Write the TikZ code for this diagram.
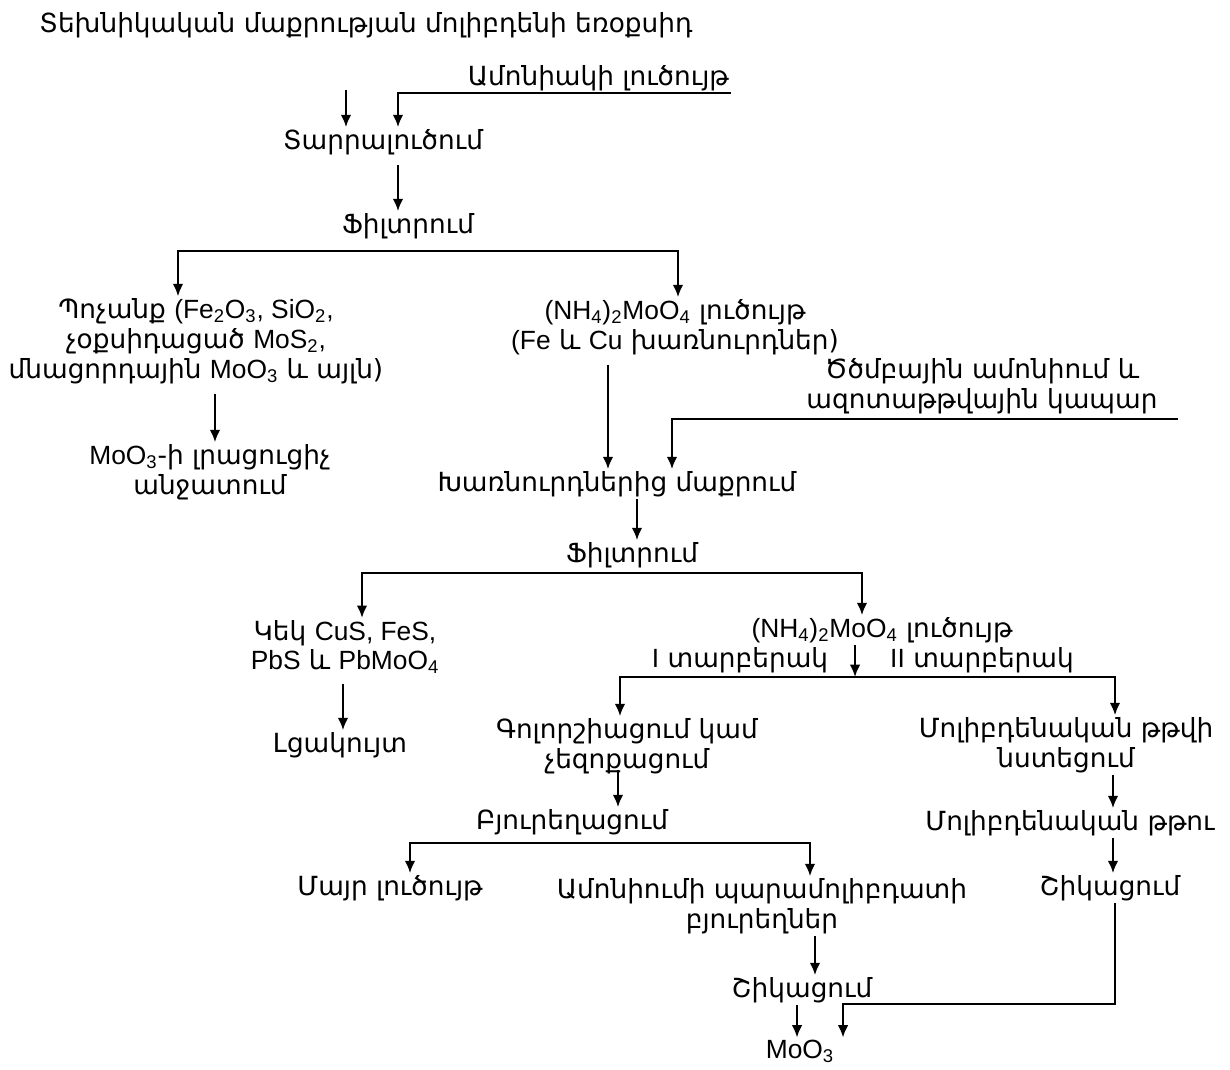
\documentclass[tikz,border=0pt]{standalone}
\usepackage{fontspec}
\setmainfont{DejaVu Sans}
\newfontfamily\latfont{Liberation Sans}
\usetikzlibrary{arrows.meta, calc}
\tikzset{
  lbl/.style={
    align=center,
    inner sep=1pt,
    font=\fontsize{15}{17}\selectfont
  }
}
\tikzstyle{arrow} = [->, > = {Latex[length=7pt, width=6pt]}, line width=1.2pt]
\def\ch#1{{\latfont #1}}
\def\sub#1{\textsubscript{#1}}

\begin{document}
\begin{tikzpicture}[x=0.02cm, y=-0.02cm]
  \useasboundingbox (0,0) rectangle (1230,1069);
  % leaching
  \node[lbl] (tech) at (366,25) {Տեխնիկական մաքրության մոլիբդենի եռօքսիդ};
  \node[lbl, anchor=south east] (ammonia) at (731,93) {Ամոնիակի լուծույթ};
  \node[lbl] (leach) at (383,142) {Տարրալուծում};
  \node[lbl] (filt1) at (408,226) {Ֆիլտրում};
  \coordinate (bar1) at (408,251);
  \node[lbl] (tails) at (196,341) {Պոչանք \ch{(Fe\sub{2}O\sub{3}, SiO\sub{2},}\\չօքսիդացած \ch{MoS\sub{2},}\\մնացորդային \ch{MoO\sub{3}} և այլն)};
  \node[lbl] (extra) at (210,472) {\ch{MoO\sub{3}}-ի լրացուցիչ\\անջատում};
  \node[lbl] (sol1) at (675,327) {\ch{(NH\sub{4})\sub{2}MoO\sub{4}} լուծույթ\\\ch{(Fe} և \ch{Cu} խառնուրդներ)};
  % purification
  \node[lbl] (reagent) at (982,386) {Ծծմբային ամոնիում և\\ազոտաթթվային կապար};
  \node[lbl] (purify) at (617,484) {Խառնուրդներից մաքրում};
  \node[lbl] (filt2) at (632,555) {Ֆիլտրում};
  \coordinate (bar2) at (632,573);
  \node[lbl] (cake) at (345,647) {Կեկ \ch{CuS, FeS,}\\\ch{PbS} և \ch{PbMoO\sub{4}}};
  \node[lbl] (dump) at (340,745) {Լցակույտ};
  \node[lbl] (sol2) at (882,630) {\ch{(NH\sub{4})\sub{2}MoO\sub{4}} լուծույթ};
  \coordinate (bar3) at (855,677);
  \node[lbl] (var1) at (740,660) {\ch{I} տարբերակ};
  \node[lbl] (var2) at (982,660) {\ch{II} տարբերակ};
  % variant I
  \node[lbl] (evap) at (627,746) {Գոլորշիացում կամ\\չեզոքացում};
  \node[lbl] (cryst) at (572,822) {Բյուրեղացում};
  \coordinate (bar4) at (572,843);
  \node[lbl] (mother) at (390,888) {Մայր լուծույթ};
  \node[lbl] (apm) at (762,906) {Ամոնիումի պարամոլիբդատի\\բյուրեղներ};
  \node[lbl] (calc1) at (802,990) {Շիկացում};
  % variant II
  \node[lbl] (acidppt) at (1066,745) {Մոլիբդենական թթվի\\նստեցում};
  \node[lbl] (acid) at (1070,823) {Մոլիբդենական թթու};
  \node[lbl] (calc2) at (1110,888) {Շիկացում};
  \coordinate (merge) at (1115,1004);
  \node[lbl] (moo3) at (800,1051) {\ch{MoO\sub{3}}};

  \draw[arrow] ($(tech.south)+(-20,50)$) -- ($(leach.north)+(-37,0)$);
  \draw[arrow] (ammonia.south east) -| ($(leach.north)+(15,0)$);
  \draw[arrow] ($(leach.south)+(15,8)$) -- ($(filt1.north)+(-10,0)$);
  \draw[arrow] (bar1) -| ($(tails.north)+(-18,0)$);
  \draw[arrow] (bar1) -| ($(sol1.north)+(3,0)$);
  \draw[arrow] ($(tails.south)+(19,8)$) -- ($(extra.north)+(5,0)$);
  \draw[arrow] ($(sol1.south)+(-67,8)$) -- ($(purify.north)+(-9,0)$);
  \draw[arrow] ($(reagent.south east)+(18,3)$) -| ($(purify.north)+(55,0)$);
  \draw[arrow] ($(purify.south)+(20,0)$) -- ($(filt2.north)+(5,0)$);
  \draw[arrow] (bar2) -| ($(cake.north)+(17,0)$);
  \draw[arrow] (bar2) -| ($(sol2.north)+(-20,0)$);
  \draw[arrow] ($(cake.south)+(-2,8)$) -- ($(dump.north)+(3,0)$);
  \draw[arrow] ($(sol2.south)+(-27,0)$) -- (bar3);
  \draw[arrow] (bar3) -| ($(evap.north)+(-7,0)$);
  \draw[arrow] (bar3) -| ($(acidppt.north)+(49,0)$);
  \draw[arrow] ($(evap.south)+(-9,-6)$) -- ($(cryst.north)+(46,0)$);
  \draw[arrow] (bar4) -| ($(mother.north)+(20,0)$);
  \draw[arrow] (bar4) -| ($(apm.north)+(48,0)$);
  \draw[arrow] ($(apm.south)+(53,0)$) -- ($(calc1.north)+(13,0)$);
  \draw[arrow] ($(calc1.south)+(-5,0)$) -- ($(moo3.north)+(-3,0)$);
  \draw[arrow] ($(acidppt.south)+(47,0)$) -- ($(acid.north)+(43,0)$);
  \draw[arrow] ($(acid.south)+(43,0)$) -- ($(calc2.north)+(3,0)$);
  \draw[arrow] ($(calc2.south)+(5,0)$) -- (merge) -| ($(moo3.north)+(43,0)$);
\end{tikzpicture}
\end{document}
